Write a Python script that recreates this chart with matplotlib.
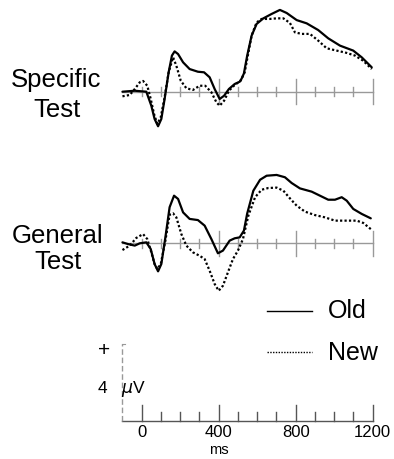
import numpy as np
import matplotlib.pyplot as plt

plt.rcParams['font.family'] = ['Liberation Sans', 'DejaVu Sans']

# ERP waveforms, ms vs microvolts (positive up)
spec_old_ms = [-100, -36, 24, 50, 67, 85, 102, 119, 140, 157, 171, 189, 215, 249, 292, 324, 353, 379, 405, 428, 453, 483, 509, 519, 531, 548, 571, 597, 632, 675, 718, 753, 805, 857, 917, 969, 1030, 1099, 1143, 1195]
spec_old_uv = [0.0, 0.05, 0.0, -0.73, -1.42, -1.80, -1.42, -0.38, 1.01, 1.88, 2.10, 1.96, 1.53, 1.18, 1.04, 1.01, 0.75, 0.14, -0.38, -0.21, 0.14, 0.40, 0.52, 0.68, 0.95, 1.88, 2.92, 3.53, 3.82, 4.05, 4.26, 4.10, 3.73, 3.56, 3.21, 2.78, 2.40, 2.14, 1.79, 1.27]

spec_new_ms = [-100, -62, -36, -10, 7, 29, 47, 64, 81, 99, 119, 140, 163, 180, 203, 232, 266, 301, 330, 362, 388, 405, 428, 453, 483, 514, 535, 548, 571, 597, 623, 666, 701, 736, 770, 796, 831, 874, 917, 961, 1013, 1065, 1108, 1151, 1195]
spec_new_uv = [-0.24, -0.17, 0.14, 0.49, 0.56, 0.31, -0.38, -1.16, -1.68, -1.33, -0.29, 1.01, 1.79, 1.35, 0.57, 0.18, 0.09, 0.31, 0.31, -0.03, -0.55, -0.73, -0.47, 0.05, 0.35, 0.57, 1.01, 1.70, 2.92, 3.61, 3.79, 3.79, 3.82, 3.82, 3.58, 3.09, 3.01, 3.01, 2.66, 2.26, 2.14, 2.02, 1.88, 1.61, 1.18]

gen_old_ms = [-100, -71, -36, -10, 24, 47, 67, 85, 102, 123, 145, 168, 189, 215, 249, 292, 327, 362, 396, 422, 457, 483, 509, 531, 548, 580, 615, 649, 701, 744, 779, 822, 883, 926, 969, 1004, 1039, 1065, 1099, 1143, 1190]
gen_old_uv = [0.05, -0.04, -0.12, 0.0, 0.05, -0.30, -1.08, -1.46, -1.08, 0.31, 1.88, 2.48, 2.31, 1.61, 1.27, 1.21, 0.92, 0.22, -0.52, -0.38, 0.14, 0.26, 0.31, 0.66, 1.55, 2.74, 3.31, 3.52, 3.56, 3.44, 3.14, 2.86, 2.69, 2.48, 2.27, 2.27, 2.40, 2.22, 1.79, 1.53, 1.30]

gen_new_ms = [-100, -62, -28, 7, 29, 50, 67, 81, 99, 123, 145, 163, 180, 206, 232, 266, 301, 327, 353, 379, 400, 422, 448, 474, 500, 526, 554, 589, 623, 658, 701, 736, 770, 805, 848, 900, 952, 1004, 1065, 1117, 1151, 1190]
gen_new_uv = [-0.35, -0.12, 0.28, 0.48, 0.22, -0.47, -1.08, -1.34, -1.08, 0.14, 1.49, 1.56, 1.35, 0.48, -0.12, -0.47, -0.65, -0.82, -1.43, -2.12, -2.47, -2.21, -1.51, -0.82, -0.38, 0.22, 1.44, 2.40, 2.79, 2.88, 2.90, 2.74, 2.34, 1.96, 1.65, 1.47, 1.35, 1.18, 1.18, 1.18, 1.06, 0.74]

tick_ms = np.arange(0, 1201, 100)
major_ms = [400, 800, 1200]
scale_labels = [0, 400, 800, 1200]

W, H = 394, 460
fig = plt.figure(figsize=(W / 100, H / 100), dpi=100)
ax = fig.add_axes([0, 0, 1, 1])
ax.axis('off')

# pixel mapping: x_px = 141.7 + 0.1925*ms ; y in uV, 19.2 px per uV
pxms = 0.1925
pxuv = 19.2
ax.set_xlim(-141.7 / pxms, (W - 141.7) / pxms)
ax.set_ylim(-(H - 92.7) / pxuv, 92.7 / pxuv)

off_top = 0
off_gen = -(244.3 - 92.7) / pxuv
off_scale = -(421.7 - 92.7) / pxuv

minor_h = 4.5 / pxuv
major_h = 12.5 / pxuv

for off in [off_top, off_gen]:
    ax.plot([-100, 1200], [off, off], color='#999999', lw=1.0, zorder=1)
    for t in tick_ms:
        h = major_h if t in major_ms else minor_h
        ax.plot([t, t], [off - h, off + h], color='#999999', lw=1.0, zorder=1)

kw = dict(color='black', lw=1.6, zorder=3, solid_joinstyle='round', solid_capstyle='round')
ax.plot(spec_old_ms, np.array(spec_old_uv) + off_top, **kw)
ax.plot(gen_old_ms, np.array(gen_old_uv) + off_gen, **kw)
kw_d = dict(color='black', lw=1.6, zorder=3, ls=(0, (1, 1)))
ax.plot(spec_new_ms, np.array(spec_new_uv) + off_top, **kw_d)
ax.plot(gen_new_ms, np.array(gen_new_uv) + off_gen, **kw_d)

# scale axis
ax.plot([-100, 1200], [off_scale, off_scale], color='#555555', lw=1.0)
for t in tick_ms:
    h = 16 / pxuv if t in scale_labels else 9 / pxuv
    ax.plot([t, t], [off_scale, off_scale + h], color='#555555', lw=1.0)
ax.plot([-100, -100], [off_scale, off_scale + 4], color='#999999', lw=1.0, ls=(0, (4, 2)))
ax.plot([-100, -85], [off_scale + 4, off_scale + 4], color='#999999', lw=0.8)
for t in scale_labels:
    ax.text(t, off_scale - 3.5 / pxuv, str(t), ha='center', va='top', fontsize=12)
ax.text(400, off_scale - 32 / pxuv, 'ms', ha='center', va='baseline', fontsize=10.5)

def ftext(x, y, s, **kw):
    fig.text(x / W, 1 - y / H, s, **kw)

ftext(56, 87, 'Specific', ha='center', va='baseline', fontsize=18.5)
ftext(57, 117, 'Test', ha='center', va='baseline', fontsize=18.5)
ftext(58, 243, 'General', ha='center', va='baseline', fontsize=18.5)
ftext(58, 269, 'Test', ha='center', va='baseline', fontsize=18.5)

ftext(104, 350, '+', ha='center', va='center', fontsize=15)
ftext(98, 393, '4', ha='left', va='baseline', fontsize=12.5)
ftext(121, 393, r'$\mu$V', ha='left', va='baseline', fontsize=12.5)

# legend
ax.plot([(266.7 - 141.7) / pxms, (311.7 - 141.7) / pxms], [-(311.7 - 92.7) / pxuv] * 2, color='black', lw=1.0)
ax.plot([(266.7 - 141.7) / pxms, (311.7 - 141.7) / pxms], [-(353 - 92.7) / pxuv] * 2, color='black', lw=1.0, ls=(0, (1, 1)))
ftext(328, 318, 'Old', ha='left', va='baseline', fontsize=18)
ftext(328, 360, 'New', ha='left', va='baseline', fontsize=18)

fig.savefig('out.png', dpi=100)
